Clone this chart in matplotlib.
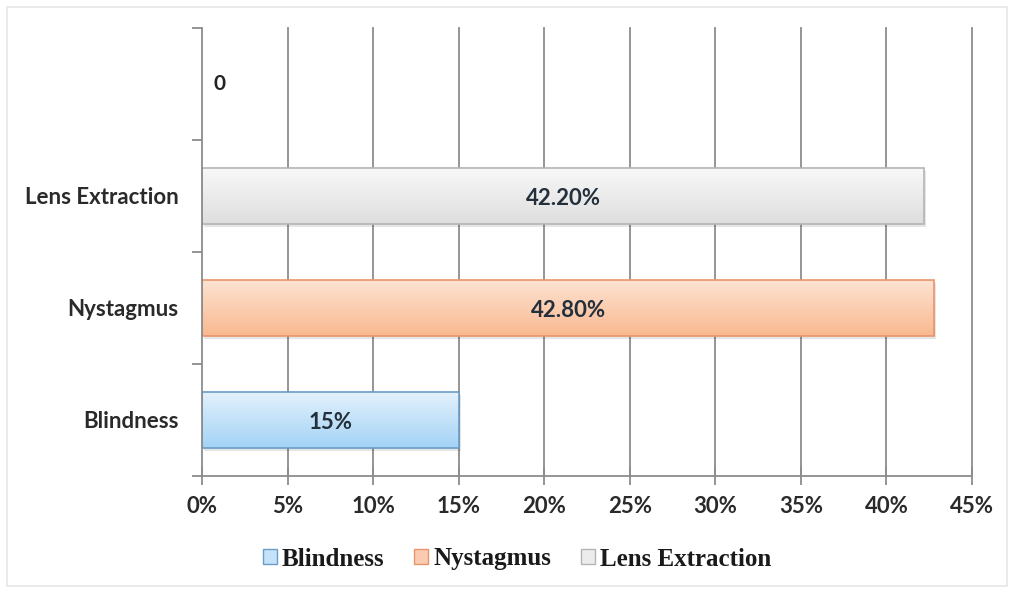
import numpy as np
import matplotlib
matplotlib.use("Agg")
import matplotlib.pyplot as plt
from matplotlib.patches import Rectangle
from matplotlib.colors import LinearSegmentedColormap

# Data (bottom to top)
categories = ["Blindness", "Nystagmus", "Lens Extraction", ""]
values = [15.0, 42.8, 42.2, 0.0]
value_labels = ["15%", "42.80%", "42.20%", "0"]
legend_names = ["Blindness", "Nystagmus", "Lens Extraction"]
x_ticks = [0, 5, 10, 15, 20, 25, 30, 35, 40, 45]
x_tick_labels = [f"{t}%" for t in x_ticks]

# Gradient (top colour, bottom colour) and edge colour per bar
top_cols = ["#e3f1fc", "#fde3d2", "#f8f8f8", "#ffffff"]
bot_cols = ["#a3d3f6", "#f9b88f", "#dedede", "#ffffff"]
edge_cols = ["#6a9cc6", "#e8956a", "#b4b4b4", "#ffffff"]
legend_fill = ["#c4e2f9", "#fbcbb0", "#ececec"]

fig = plt.figure(figsize=(10.13, 5.93), dpi=100)
fig.patch.set_facecolor("white")
ax = fig.add_axes([202 / 1013, 1 - 476 / 593, 770 / 1013, 448 / 593])

label_font = ["Lato", "DejaVu Sans"]
grid_col = "#8c8c8c"
text_col = "#2a2a2a"
fs = 16

ax.set_xlim(0, 45)
ax.set_ylim(-0.5, 3.5)

# vertical gridlines
for t in x_ticks[1:]:
    ax.axvline(t, color=grid_col, lw=1.3, zorder=0, clip_on=False)

bars = ax.barh(np.arange(len(values)), values, height=0.5, zorder=2,
               color="none", edgecolor="none")

for i, patch in enumerate(bars.patches):
    if values[i] <= 0:
        continue
    x0, y0 = patch.get_x(), patch.get_y()
    w, h = patch.get_width(), patch.get_height()
    # soft shadow
    ax.add_patch(Rectangle((x0 + 0.12, y0 - 0.03), w, h, facecolor="#000000",
                           alpha=0.10, edgecolor="none", zorder=1.5))
    cmap = LinearSegmentedColormap.from_list(f"g{i}", [bot_cols[i], top_cols[i]])
    grad = np.linspace(0, 1, 256).reshape(-1, 1)
    im = ax.imshow(grad, extent=[x0, x0 + w, y0, y0 + h], origin="lower",
                   cmap=cmap, aspect="auto", zorder=2.2, interpolation="bicubic")
    im.set_clip_path(patch)
    ax.add_patch(Rectangle((x0, y0), w, h, facecolor="none",
                           edgecolor=edge_cols[i], lw=1.2, zorder=2.4))

ax.set_xlim(0, 45)
ax.set_ylim(-0.5, 3.5)

# value labels
for i, v in enumerate(values):
    if v > 0:
        ax.text(v / 2, i - 0.02, value_labels[i], ha="center", va="center",
                fontsize=fs, fontweight="bold", color="#23303c",
                family=label_font, zorder=3)
    else:
        ax.text(1.05, i, value_labels[i], ha="center", va="center",
                fontsize=fs - 1, fontweight="bold", color="#222222",
                family=label_font, zorder=3)

# axes styling
for side in ["top", "right"]:
    ax.spines[side].set_visible(False)
for side in ["left", "bottom"]:
    ax.spines[side].set_color(grid_col)
    ax.spines[side].set_linewidth(1.3)

ax.set_xticks(x_ticks)
ax.set_xticklabels(x_tick_labels, fontsize=fs, fontweight="bold",
                   color=text_col, family=label_font)
ax.tick_params(axis="x", direction="inout", length=13, width=1.3,
               color=grid_col, pad=8)

ax.set_yticks(np.arange(len(categories)))
ax.set_yticklabels(categories, fontsize=fs, fontweight="bold",
                   color=text_col, family=label_font)
ax.tick_params(axis="y", which="major", length=0, pad=17)
ax.set_yticks(np.arange(-0.5, len(categories), 1.0), minor=True)
ax.tick_params(axis="y", which="minor", length=7.5, width=1.3, color=grid_col)

# legend
handles = [Rectangle((0, 0), 1, 1, facecolor=legend_fill[k], edgecolor=edge_cols[k], lw=1)
           for k in range(3)]
leg = fig.legend(handles, legend_names, loc="center", bbox_to_anchor=(517 / 1013, 1 - 559 / 593),
                 ncol=3, frameon=False, handlelength=0.55, handleheight=0.55,
                 handletextpad=0.2, columnspacing=1.2,
                 prop={"family": "Liberation Serif", "weight": "bold", "size": 18})
for t in leg.get_texts():
    t.set_color("#1a1a1a")

# faint outer frame
fig.add_artist(Rectangle((7 / 1013, 1 - 586 / 593), 1000 / 1013, 579 / 593,
                         transform=fig.transFigure, facecolor="none",
                         edgecolor="#e6e6e6", lw=1.2))

fig.savefig("out.png", dpi=100, facecolor="white")
